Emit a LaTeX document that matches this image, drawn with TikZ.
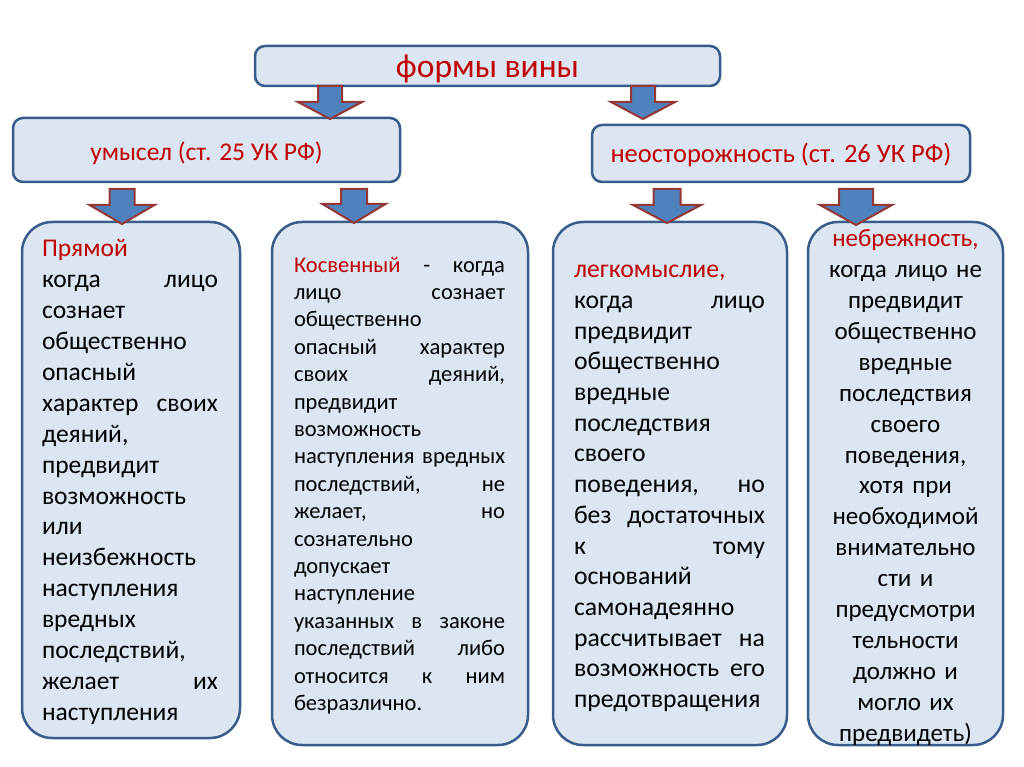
\documentclass[tikz,border=0pt]{standalone}
\usepackage{fontspec}
\setmainfont{Carlito}
\definecolor{boxfill}{HTML}{DCE6F2}
\definecolor{boxline}{HTML}{385D8A}
\definecolor{arrfill}{HTML}{4F81BD}
\definecolor{arrline}{HTML}{953735}
\definecolor{redtxt}{HTML}{C00000}
\newcommand{\jl}[1]{\leavevmode\hbox to \hsize{#1}}
\newcommand{\barr}[6]{\draw[barrow] (#1-#3,#2) -- (#1+#3,#2) -- (#1+#3,#5) -- (#1+#4,#5) -- (#1,#6) -- (#1-#4,#5) -- (#1-#3,#5) -- cycle;}
\begin{document}
\begin{tikzpicture}[x=1pt,y=-1pt,
  box/.style={draw=boxline, fill=boxfill, line width=2.5pt, rounded corners=10pt, inner sep=0pt},
  bigbox/.style={box, rounded corners=30pt},
  headtxt/.style={text=redtxt, inner sep=0pt},
  bodytxt/.style={text=black, inner sep=0pt},
  barrow/.style={fill=arrfill, draw=arrline, line width=2pt, line join=miter}]
\useasboundingbox (0,0) rectangle (1024,767);

\node[box, minimum width=465pt, minimum height=40pt] (top) at (487.5,66) {};
\node[headtxt, font={\fontsize{33.5}{40}\selectfont}] (toplbl) at ([yshift=-3pt]top.center) {формы вины};
\node[box, minimum width=387pt, minimum height=64pt] (umysel) at (206.5,150) {};
\node[headtxt, font={\fontsize{25.5}{30}\selectfont}] (umysellbl) at ([yshift=-3pt]umysel.center) {умысел (ст. 25 УК РФ)};
\node[box, minimum width=378pt, minimum height=57pt] (neost) at (781,153.5) {};
\node[headtxt, font={\fontsize{26.5}{30}\selectfont}] (neostlbl) at ([yshift=-1pt]neost.center) {неосторожность (ст. 26 УК РФ)};

\node[bigbox, minimum width=218pt, minimum height=516pt] (pryamoy) at (131,480) {};
\node[bodytxt, text width=176pt, align=left, font={\fontsize{25.5}{30.9}\selectfont}] (pryamoytxt) at ([xshift=-1pt,yshift=-2pt]pryamoy.center) {%
{\color{redtxt}Прямой}\\
\jl{когда\hfill лицо}\\
сознает\\
общественно\\
опасный\\
\jl{характер\hfill своих}\\
деяний,\\
предвидит\\
возможность\\
или\\
неизбежность\\
наступления\\
вредных\\
последствий,\\
\jl{желает\hfill их}\\
наступления};

\node[bigbox, minimum width=256pt, minimum height=523pt] (kosv) at (400,483.5) {};
\node[bodytxt, text width=211pt, align=left, font={\fontsize{22.5}{27.4}\selectfont}] (kosvtxt) at ([xshift=-0.5pt,yshift=-2pt]kosv.center) {%
\jl{{\color{redtxt}Косвенный}\hfill -\hfill когда}\\
\jl{лицо\hfill сознает}\\
общественно\\
\jl{опасный\hfill характер}\\
\jl{своих\hfill деяний,}\\
предвидит\\
возможность\\
\jl{наступления\hfill вредных}\\
\jl{последствий,\hfill не}\\
\jl{желает,\hfill но}\\
сознательно\\
допускает\\
наступление\\
\jl{указанных\hfill в\hfill законе}\\
\jl{последствий\hfill либо}\\
\jl{относится\hfill к\hfill ним}\\
безразлично.};

\node[bigbox, minimum width=234pt, minimum height=523pt] (legk) at (670,483.5) {};
\node[bodytxt, text width=191pt, align=left, font={\fontsize{25.7}{30.7}\selectfont}] (legktxt) at ([xshift=-0.5pt,yshift=-5pt]legk.center) {%
{\color{redtxt}легкомыслие,}\\
\jl{когда\hfill лицо}\\
предвидит\\
общественно\\
вредные\\
последствия\\
своего\\
\jl{поведения,\hfill но}\\
\jl{без\hfill достаточных}\\
\jl{к\hfill тому}\\
оснований\\
самонадеянно\\
\jl{рассчитывает\hfill на}\\
\jl{возможность\hfill его}\\
предотвращения};

\node[bigbox, minimum width=195pt, minimum height=523pt] (nebr) at (905.5,483.5) {};
\node[bodytxt, text width=177pt, align=center, font={\fontsize{25}{30.9}\selectfont}] (nebrtxt) at ([yshift=-4pt]nebr.center) {%
{\color{redtxt}небрежность,}\\
когда лицо не\\
предвидит\\
общественно\\
вредные\\
последствия\\
своего\\
поведения,\\
хотя при\\
необходимой\\
внимательно\\
сти и\\
предусмотри\\
тельности\\
должно и\\
могло их\\
предвидеть)};

% block arrows: cx, shaft top, shaft half width, head half width, head top, tip
\barr{330}{86}{12}{32}{102}{119}
\barr{643}{86}{12}{32}{102}{119}
\barr{122}{189}{12.5}{32.5}{205}{224}
\barr{354}{189}{13}{31.5}{204}{223}
\barr{667}{189}{13.5}{34}{205}{223}
\barr{856}{189}{17}{36}{205}{225}
\end{tikzpicture}
\end{document}
